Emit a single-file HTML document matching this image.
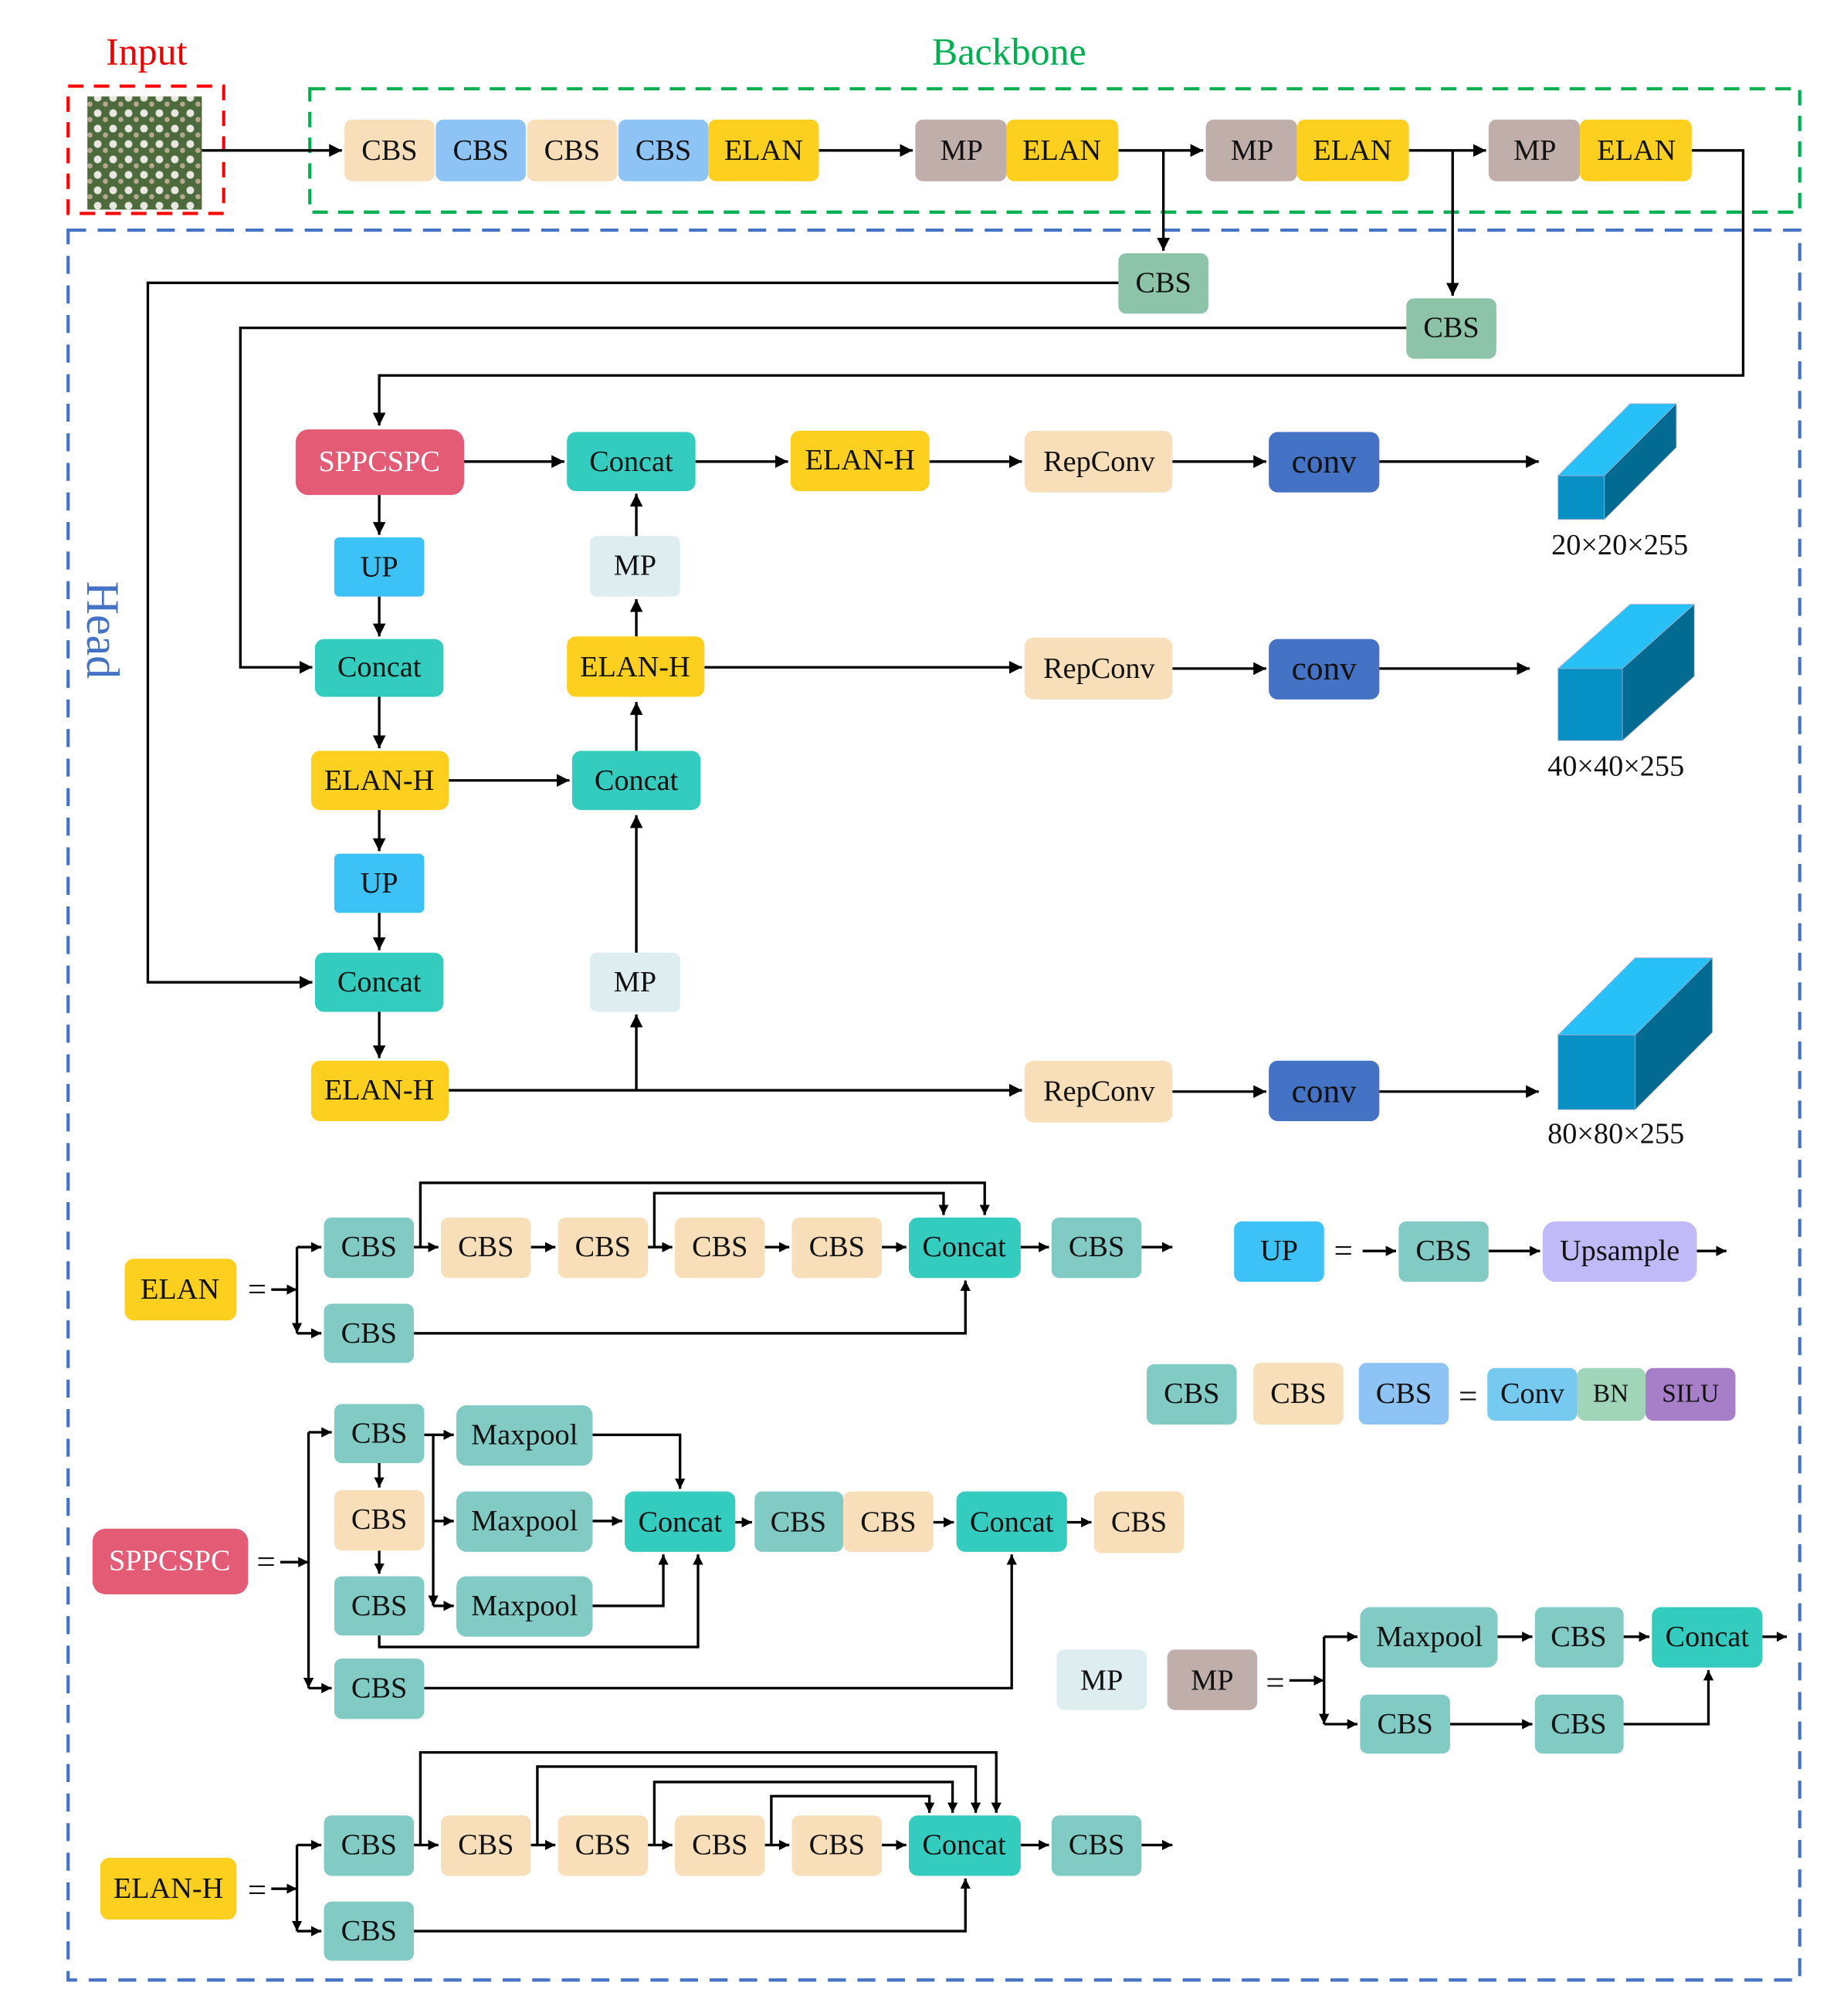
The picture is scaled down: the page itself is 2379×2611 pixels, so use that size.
<!DOCTYPE html>
<html><head><meta charset="utf-8"><style>
html,body{margin:0;padding:0;background:#fff;}
svg{display:block;}
text{font-family:"Liberation Serif",serif;font-size:23px;text-anchor:middle;dominant-baseline:central;fill:#111;}
</style></head><body>
<svg width="2379" height="2611" viewBox="0 0 1429 1568" preserveAspectRatio="none" xmlns="http://www.w3.org/2000/svg">
<defs>
<marker id="a" viewBox="0 0 10 10" refX="10" refY="5" markerWidth="8" markerHeight="8" orient="auto" markerUnits="userSpaceOnUse"><path d="M0,0L10,5L0,10z" fill="#000"/></marker>
<marker id="b" viewBox="0 0 10 10" refX="10" refY="5" markerWidth="10" markerHeight="10" orient="auto" markerUnits="userSpaceOnUse"><path d="M0,0L10,5L0,10z" fill="#000"/></marker>
<pattern id="img" width="12" height="12" patternUnits="userSpaceOnUse"><rect width="12" height="12" fill="#4d6a3c"/><circle cx="4" cy="4" r="3" fill="#e8e8e0"/><circle cx="10" cy="9" r="2" fill="#b8a890"/></pattern>
</defs>
<g fill="none" stroke="#000" stroke-width="2">
<rect x="53" y="67" width="121" height="99" stroke="#f00" stroke-width="2.5" stroke-dasharray="12,8"/>
<rect x="241" y="69" width="1159" height="96" stroke="#00b050" stroke-width="2.5" stroke-dasharray="12,8"/>
<rect x="53" y="179" width="1347" height="1361" stroke="#4472c4" stroke-width="2.5" stroke-dasharray="14,9"/>
</g>
<rect x="68" y="75" width="89" height="88" fill="url(#img)"/>
<text x="114" y="40" style="font-size:30px;fill:#e00">Input</text>
<text x="785" y="40" style="font-size:30px;fill:#00b050">Backbone</text>
<text x="80" y="490" transform="rotate(90 80 490)" style="font-size:36px;fill:#4472c4">Head</text>

<g stroke="#000" stroke-width="2" fill="none" marker-end="url(#b)">
<path d="M157,117H266"/><path d="M637,117H710"/><path d="M870,117H936"/><path d="M905,117V195"/>
<path d="M1096,117H1156"/><path d="M1130,117V230"/>
<path d="M1316,117H1356V292H295V331"/>
<path d="M870,220H115V764H243"/><path d="M1094,255H187V519H243"/>
<path d="M361,359H439"/><path d="M541,359H613"/><path d="M723,359H795"/><path d="M912,359H985"/><path d="M1073,359H1197"/>
<path d="M295,385V416"/><path d="M295,464V495"/><path d="M295,542V582"/><path d="M295,630V662"/><path d="M295,710V739"/><path d="M295,787V823"/>
<path d="M349,607H443"/><path d="M495,584V546"/><path d="M495,495V466"/><path d="M495,417V384"/>
<path d="M349,848H795"/><path d="M495,848V789"/><path d="M495,741V634"/>
<path d="M548,519H795"/><path d="M912,520H985"/><path d="M1073,520H1190"/>
<path d="M912,849H985"/><path d="M1073,849H1197"/>
</g>

<g stroke="#000" stroke-width="2" fill="none" marker-end="url(#a)">
<path d="M211,1003H231"/><path d="M231,970V1037"/><path d="M231,970H250"/><path d="M231,1037H250"/>
<path d="M322,970H341"/><path d="M413,970H432"/><path d="M504,970H523"/><path d="M595,970H614"/><path d="M686,970H705"/><path d="M794,970H816"/><path d="M888,970H912"/>
<path d="M327,970V920H766V945"/><path d="M509,970V928H734V945"/><path d="M322,1037H751V996"/>
<path d="M1060,973H1086"/><path d="M1158,973H1198"/><path d="M1320,973H1343"/>
<path d="M218,1215H240"/><path d="M240,1114V1313"/><path d="M240,1114H258"/><path d="M240,1313H258"/>
<path d="M295,1138V1157"/><path d="M295,1206V1224"/>
<path d="M330,1116H337V1249"/><path d="M337,1116H353"/><path d="M337,1183H353"/><path d="M337,1249H353"/>
<path d="M461,1116H529V1158"/><path d="M461,1183H484"/><path d="M461,1249H516V1209"/><path d="M295,1272V1281H543V1209"/>
<path d="M572,1184H585"/><path d="M726,1184H742"/><path d="M830,1184H849"/><path d="M330,1313H787V1209"/>
<path d="M1003,1307H1030"/><path d="M1030,1273V1341"/><path d="M1030,1273H1056"/><path d="M1030,1341H1056"/>
<path d="M1165,1273H1192"/><path d="M1263,1273H1283"/><path d="M1371,1273H1390"/><path d="M1128,1341H1192"/><path d="M1263,1341H1329V1299"/>
<path d="M211,1469H231"/><path d="M231,1435V1502"/><path d="M231,1435H250"/><path d="M231,1502H250"/>
<path d="M322,1435H341"/><path d="M413,1435H432"/><path d="M504,1435H523"/><path d="M595,1435H614"/><path d="M686,1435H705"/><path d="M794,1435H816"/><path d="M888,1435H912"/>
<path d="M327,1435V1363H775V1410"/><path d="M418,1435V1374H759V1410"/><path d="M509,1435V1386H741V1410"/><path d="M600,1435V1397H723V1410"/>
<path d="M322,1502H751V1461"/>
</g>

<g stroke="#aac" stroke-width="0.5">
<polygon points="1212,370 1248,370 1304,314 1268,314" fill="#27c0f7"/><polygon points="1248,370 1248,404 1304,348 1304,314" fill="#036a92"/><rect x="1212" y="370" width="36" height="34" fill="#0690c4"/>
<polygon points="1212,520 1262,520 1318,470 1268,470" fill="#27c0f7"/><polygon points="1262,520 1262,576 1318,526 1318,470" fill="#036a92"/><rect x="1212" y="520" width="50" height="56" fill="#0690c4"/>
<polygon points="1212,805 1272,805 1332,745 1272,745" fill="#27c0f7"/><polygon points="1272,805 1272,863 1332,803 1332,745" fill="#036a92"/><rect x="1212" y="805" width="60" height="58" fill="#0690c4"/>
</g>
<text x="1260" y="424">20×20×255</text><text x="1257" y="596">40×40×255</text><text x="1257" y="882">80×80×255</text>

<g>
<rect x="268" y="93" width="70" height="48" rx="6" fill="#f8dfba"/><text x="303" y="117">CBS</text>
<rect x="339" y="93" width="70" height="48" rx="6" fill="#8ec4f5"/><text x="374" y="117">CBS</text>
<rect x="410" y="93" width="70" height="48" rx="6" fill="#f8dfba"/><text x="445" y="117">CBS</text>
<rect x="481" y="93" width="70" height="48" rx="6" fill="#8ec4f5"/><text x="516" y="117">CBS</text>
<rect x="551" y="93" width="86" height="48" rx="6" fill="#fdd01f"/><text x="594" y="117">ELAN</text>
<rect x="712" y="93" width="71" height="48" rx="6" fill="#bfaea9"/><text x="748" y="117">MP</text>
<rect x="783" y="93" width="87" height="48" rx="6" fill="#fdd01f"/><text x="826" y="117">ELAN</text>
<rect x="938" y="93" width="71" height="48" rx="6" fill="#bfaea9"/><text x="974" y="117">MP</text>
<rect x="1009" y="93" width="87" height="48" rx="6" fill="#fdd01f"/><text x="1052" y="117">ELAN</text>
<rect x="1158" y="93" width="71" height="48" rx="6" fill="#bfaea9"/><text x="1194" y="117">MP</text>
<rect x="1229" y="93" width="87" height="48" rx="6" fill="#fdd01f"/><text x="1273" y="117">ELAN</text>
<rect x="870" y="197" width="70" height="47" rx="6" fill="#8dc4a9"/><text x="905" y="220">CBS</text>
<rect x="1094" y="232" width="70" height="47" rx="6" fill="#8dc4a9"/><text x="1129" y="255">CBS</text>
<rect x="230" y="334" width="131" height="51" rx="10" fill="#e35b74"/><text x="295" y="359" style="fill:#fff">SPPCSPC</text>
<rect x="441" y="336" width="100" height="46" rx="7" fill="#33ccbf"/><text x="491" y="359">Concat</text>
<rect x="615" y="335" width="108" height="47" rx="7" fill="#fdd01f"/><text x="669" y="358">ELAN-H</text>
<rect x="797" y="335" width="115" height="48" rx="7" fill="#f8dfba"/><text x="855" y="359">RepConv</text>
<rect x="987" y="336" width="86" height="47" rx="7" fill="#4472c4"/><text x="1030" y="359" style="font-size:26px">conv</text>
<rect x="260" y="418" width="70" height="46" rx="4" fill="#3dc2f7"/><text x="295" y="441">UP</text>
<rect x="459" y="417" width="70" height="47" rx="5" fill="#deedf0"/><text x="494" y="440">MP</text>
<rect x="245" y="497" width="100" height="45" rx="7" fill="#33ccbf"/><text x="295" y="519">Concat</text>
<rect x="441" y="495" width="107" height="47" rx="7" fill="#fdd01f"/><text x="494" y="519">ELAN-H</text>
<rect x="797" y="496" width="115" height="48" rx="7" fill="#f8dfba"/><text x="855" y="520">RepConv</text>
<rect x="987" y="497" width="86" height="47" rx="7" fill="#4472c4"/><text x="1030" y="520" style="font-size:26px">conv</text>
<rect x="242" y="584" width="107" height="46" rx="7" fill="#fdd01f"/><text x="295" y="607">ELAN-H</text>
<rect x="445" y="584" width="100" height="46" rx="7" fill="#33ccbf"/><text x="495" y="607">Concat</text>
<rect x="260" y="664" width="70" height="46" rx="4" fill="#3dc2f7"/><text x="295" y="687">UP</text>
<rect x="245" y="741" width="100" height="46" rx="7" fill="#33ccbf"/><text x="295" y="764">Concat</text>
<rect x="459" y="741" width="70" height="46" rx="5" fill="#deedf0"/><text x="494" y="764">MP</text>
<rect x="242" y="825" width="107" height="47" rx="7" fill="#fdd01f"/><text x="295" y="848">ELAN-H</text>
<rect x="797" y="825" width="115" height="48" rx="7" fill="#f8dfba"/><text x="855" y="849">RepConv</text>
<rect x="987" y="825" width="86" height="47" rx="7" fill="#4472c4"/><text x="1030" y="849" style="font-size:26px">conv</text>

<rect x="97" y="979" width="87" height="48" rx="7" fill="#fdd01f"/><text x="140" y="1003">ELAN</text>
<text x="200" y="1003" style="font-size:26px">=</text>
<rect x="252" y="947" width="70" height="47" rx="6" fill="#82cbc5"/><text x="287" y="970">CBS</text>
<rect x="343" y="947" width="70" height="47" rx="6" fill="#f8dfba"/><text x="378" y="970">CBS</text>
<rect x="434" y="947" width="70" height="47" rx="6" fill="#f8dfba"/><text x="469" y="970">CBS</text>
<rect x="525" y="947" width="70" height="47" rx="6" fill="#f8dfba"/><text x="560" y="970">CBS</text>
<rect x="616" y="947" width="70" height="47" rx="6" fill="#f8dfba"/><text x="651" y="970">CBS</text>
<rect x="707" y="947" width="87" height="47" rx="7" fill="#33ccbf"/><text x="750" y="970">Concat</text>
<rect x="818" y="947" width="70" height="47" rx="6" fill="#82cbc5"/><text x="853" y="970">CBS</text>
<rect x="252" y="1014" width="70" height="46" rx="6" fill="#82cbc5"/><text x="287" y="1037">CBS</text>
<rect x="960" y="950" width="70" height="47" rx="6" fill="#3dc2f7"/><text x="995" y="973">UP</text>
<text x="1045" y="973" style="font-size:26px">=</text>
<rect x="1088" y="950" width="70" height="47" rx="6" fill="#82cbc5"/><text x="1123" y="973">CBS</text>
<rect x="1200" y="950" width="120" height="47" rx="10" fill="#c0bbf8"/><text x="1260" y="973">Upsample</text>
<rect x="892" y="1061" width="70" height="47" rx="6" fill="#82cbc5"/><text x="927" y="1084">CBS</text>
<rect x="975" y="1060" width="70" height="48" rx="6" fill="#f8dfba"/><text x="1010" y="1084">CBS</text>
<rect x="1057" y="1060" width="70" height="48" rx="6" fill="#8ec4f5"/><text x="1092" y="1084">CBS</text>
<text x="1142" y="1086" style="font-size:26px">=</text>
<rect x="1157" y="1064" width="70" height="41" rx="6" fill="#76c9ef"/><text x="1192" y="1084">Conv</text>
<rect x="1227" y="1064" width="53" height="41" rx="6" fill="#a1d5ba"/><text x="1253" y="1084" style="font-size:20px">BN</text>
<rect x="1280" y="1064" width="70" height="41" rx="6" fill="#a77fc8"/><text x="1315" y="1084" style="font-size:20px">SILU</text>
<rect x="72" y="1189" width="121" height="51" rx="10" fill="#e35b74"/><text x="132" y="1214" style="fill:#fff">SPPCSPC</text>
<text x="207" y="1215" style="font-size:26px">=</text>
<rect x="260" y="1092" width="70" height="46" rx="6" fill="#82cbc5"/><text x="295" y="1115">CBS</text>
<rect x="260" y="1159" width="70" height="47" rx="6" fill="#f8dfba"/><text x="295" y="1182">CBS</text>
<rect x="260" y="1226" width="70" height="46" rx="6" fill="#82cbc5"/><text x="295" y="1249">CBS</text>
<rect x="260" y="1290" width="70" height="47" rx="6" fill="#82cbc5"/><text x="295" y="1313">CBS</text>
<rect x="355" y="1093" width="106" height="47" rx="8" fill="#82cbc5"/><text x="408" y="1116">Maxpool</text>
<rect x="355" y="1160" width="106" height="47" rx="8" fill="#82cbc5"/><text x="408" y="1183">Maxpool</text>
<rect x="355" y="1226" width="106" height="47" rx="8" fill="#82cbc5"/><text x="408" y="1249">Maxpool</text>
<rect x="486" y="1160" width="86" height="47" rx="7" fill="#33ccbf"/><text x="529" y="1184">Concat</text>
<rect x="587" y="1160" width="69" height="47" rx="6" fill="#82cbc5"/><text x="621" y="1184">CBS</text>
<rect x="656" y="1160" width="70" height="47" rx="6" fill="#f8dfba"/><text x="691" y="1184">CBS</text>
<rect x="744" y="1160" width="86" height="47" rx="7" fill="#33ccbf"/><text x="787" y="1184">Concat</text>
<rect x="851" y="1160" width="70" height="48" rx="6" fill="#f8dfba"/><text x="886" y="1184">CBS</text>
<rect x="822" y="1283" width="70" height="47" rx="6" fill="#deedf0"/><text x="857" y="1307">MP</text>
<rect x="908" y="1283" width="70" height="47" rx="6" fill="#bfaea9"/><text x="943" y="1307">MP</text>
<text x="992" y="1309" style="font-size:26px">=</text>
<rect x="1058" y="1250" width="107" height="47" rx="8" fill="#82cbc5"/><text x="1112" y="1273">Maxpool</text>
<rect x="1194" y="1250" width="69" height="47" rx="6" fill="#82cbc5"/><text x="1228" y="1273">CBS</text>
<rect x="1285" y="1250" width="86" height="47" rx="7" fill="#33ccbf"/><text x="1328" y="1273">Concat</text>
<rect x="1058" y="1318" width="70" height="46" rx="6" fill="#82cbc5"/><text x="1093" y="1341">CBS</text>
<rect x="1194" y="1318" width="69" height="46" rx="6" fill="#82cbc5"/><text x="1228" y="1341">CBS</text>
<rect x="78" y="1445" width="106" height="48" rx="7" fill="#fdd01f"/><text x="131" y="1469">ELAN-H</text>
<text x="200" y="1470" style="font-size:26px">=</text>
<rect x="252" y="1412" width="70" height="47" rx="6" fill="#82cbc5"/><text x="287" y="1435">CBS</text>
<rect x="343" y="1412" width="70" height="47" rx="6" fill="#f8dfba"/><text x="378" y="1435">CBS</text>
<rect x="434" y="1412" width="70" height="47" rx="6" fill="#f8dfba"/><text x="469" y="1435">CBS</text>
<rect x="525" y="1412" width="70" height="47" rx="6" fill="#f8dfba"/><text x="560" y="1435">CBS</text>
<rect x="616" y="1412" width="70" height="47" rx="6" fill="#f8dfba"/><text x="651" y="1435">CBS</text>
<rect x="707" y="1412" width="87" height="47" rx="7" fill="#33ccbf"/><text x="750" y="1435">Concat</text>
<rect x="818" y="1412" width="70" height="47" rx="6" fill="#82cbc5"/><text x="853" y="1435">CBS</text>
<rect x="252" y="1479" width="70" height="46" rx="6" fill="#82cbc5"/><text x="287" y="1502">CBS</text>
</g>
</svg>
</body></html>
